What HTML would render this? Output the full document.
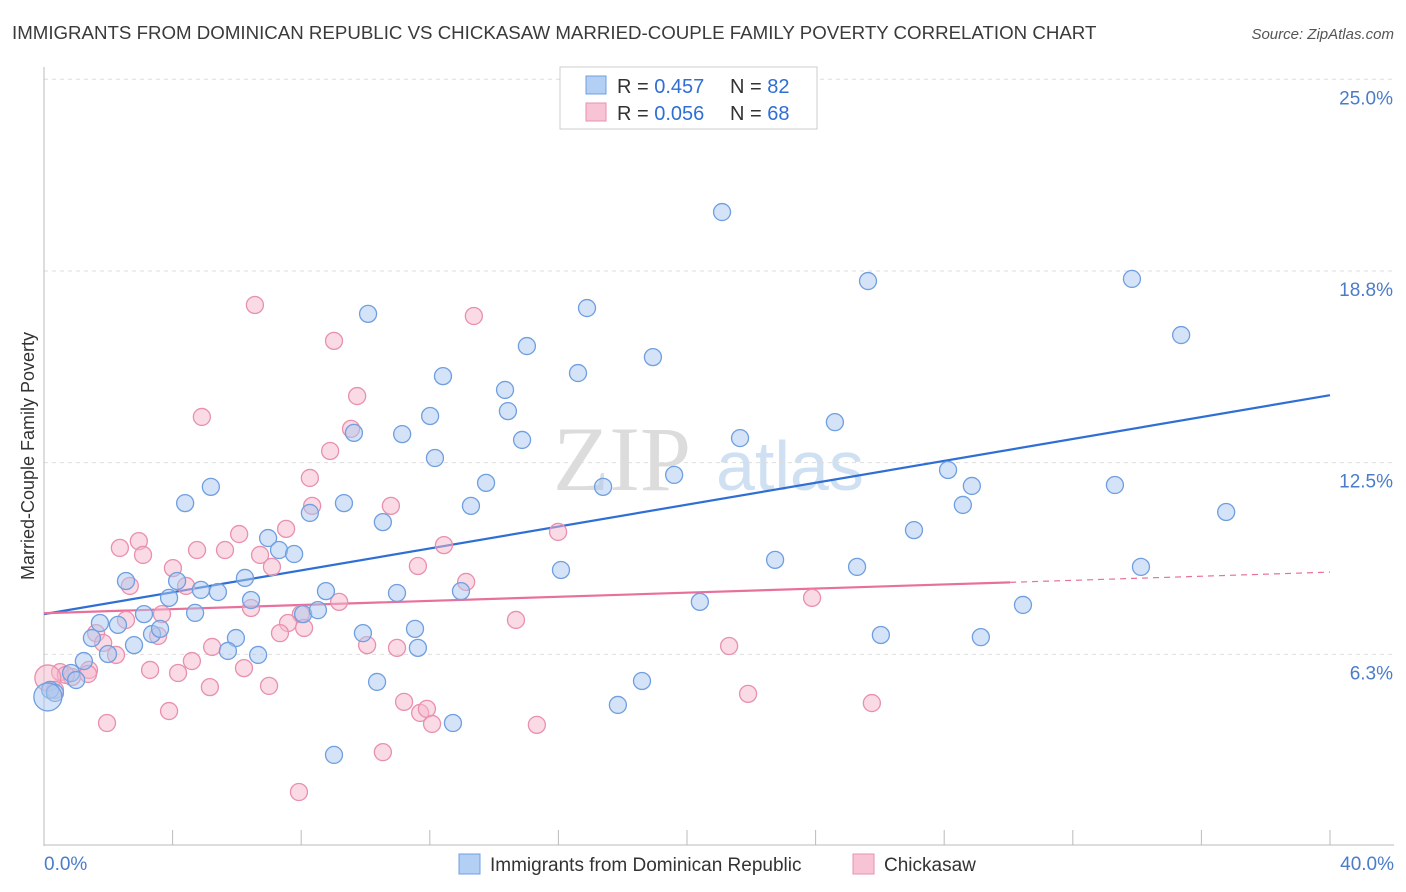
<!DOCTYPE html>
<html><head><meta charset="utf-8"><style>
body{margin:0;background:#fff;font-family:"Liberation Sans",sans-serif}
svg{display:block}
</style></head><body>
<svg id="chart" width="1406" height="892" viewBox="0 0 1406 892">
<text x="12" y="39" font-size="18.7" fill="#3a3a3a">IMMIGRANTS FROM DOMINICAN REPUBLIC VS CHICKASAW MARRIED-COUPLE FAMILY POVERTY CORRELATION CHART</text>
<text x="1394" y="39" font-size="15" fill="#555" font-style="italic" text-anchor="end">Source: ZipAtlas.com</text>
<text transform="translate(34,456) rotate(-90)" font-size="18" fill="#333" text-anchor="middle">Married-Couple Family Poverty</text>
<g><text x="553" y="490" font-size="92" fill="#dcdcdc" font-family="Liberation Serif,serif">ZIP</text><text x="716" y="490" font-size="70" fill="#cfe0f3">atlas</text></g>
<g id="grid"></g><g id="axes"></g><g id="lines"></g><g id="pts"></g>
<g>
<rect x="560" y="67" width="257" height="62" fill="#fff" stroke="#ccc"/>
<rect x="586" y="76" width="20" height="18" fill="#b3cff3" stroke="#6f9fe0"/>
<rect x="586" y="103" width="20" height="18" fill="#f8c4d5" stroke="#e890ae"/>
<text x="617" y="93" font-size="20" fill="#333">R = <tspan fill="#2f6fd4">0.457</tspan></text>
<text x="730" y="93" font-size="20" fill="#333">N = <tspan fill="#2f6fd4">82</tspan></text>
<text x="617" y="120" font-size="20" fill="#333">R = <tspan fill="#2f6fd4">0.056</tspan></text>
<text x="730" y="120" font-size="20" fill="#333">N = <tspan fill="#2f6fd4">68</tspan></text>
</g>
<g>
<rect x="459" y="854" width="21" height="20" fill="#b3cff3" stroke="#6f9fe0"/>
<text x="490" y="871" font-size="19" fill="#333">Immigrants from Dominican Republic</text>
<rect x="853" y="854" width="21" height="20" fill="#f8c4d5" stroke="#e890ae"/>
<text x="884" y="871" font-size="19" fill="#333">Chickasaw</text>
</g>
</svg>
<script>
const blueX=[21.09,25.63,33.84,35.37,10.08,16.89,15.02,18.94,12.41,16.61,14.34,14.43,12.01,9.64,11.14,14.87,21.65,24.60,12.16,19.60,13.75,17.39,28.12,28.86,33.31,28.58,36.77,4.39,5.19,9.33,13.28,10.54,8.27,27.06,6.97,7.31,7.78,16.08,22.74,25.29,34.12,2.55,4.14,4.88,5.41,6.25,3.89,6.44,8.77,10.98,12.97,20.40,30.45,3.11,4.70,8.06,8.52,1.74,2.30,3.36,3.61,5.97,9.92,11.54,26.03,29.14,1.49,1.99,2.80,5.72,6.66,11.63,1.24,0.84,1.00,10.36,18.60,17.85,12.72,9.02,0.19,0.34,0.12];
const blueY=[20.67,18.42,18.49,16.66,17.35,17.54,16.30,15.94,15.32,15.42,14.87,14.18,14.02,13.47,13.43,13.24,13.30,13.82,12.65,12.10,11.84,11.71,12.26,11.74,11.77,11.12,10.89,11.18,11.71,11.18,11.09,10.56,10.86,10.30,10.04,9.65,9.52,9.00,9.33,9.10,9.10,8.64,8.64,8.35,8.28,8.74,8.09,8.02,8.31,8.25,8.31,7.96,7.86,7.56,7.60,7.56,7.69,7.27,7.21,6.91,7.08,6.78,6.94,7.08,6.88,6.81,6.78,6.26,6.55,6.36,6.23,6.46,6.03,5.64,5.41,5.35,5.38,4.60,4.01,2.97,5.09,4.99,4.86];
const pinkX=[6.56,13.37,9.02,9.74,4.91,9.55,8.90,8.27,8.34,10.79,6.07,7.53,15.99,2.36,2.95,3.08,4.76,5.63,6.72,12.44,4.01,7.09,11.63,2.67,4.42,13.13,3.67,6.44,9.18,7.99,7.59,8.09,2.55,1.62,3.55,1.84,5.23,2.24,7.34,10.05,10.98,14.68,23.89,21.31,4.60,1.40,3.30,6.22,4.17,0.50,0.87,1.37,0.68,0.12,5.16,7.00,21.90,25.75,0.34,11.20,11.70,11.91,12.07,3.89,1.96,15.33,10.54,7.93];
const pinkY=[17.64,17.28,16.47,14.67,13.99,13.60,12.88,12.00,11.09,11.09,10.17,10.34,10.24,9.72,9.94,9.49,9.65,9.65,9.49,9.81,9.06,9.10,9.13,8.48,8.48,8.61,7.56,7.76,7.96,7.56,7.27,7.11,7.37,6.94,6.85,6.62,6.49,6.23,6.94,6.55,6.46,7.37,8.09,6.52,6.03,5.74,5.74,5.80,5.64,5.67,5.51,5.61,5.58,5.48,5.18,5.22,4.96,4.66,5.09,4.70,4.34,4.47,3.98,4.40,4.01,3.95,3.06,1.76];
const yTicks=[25.0,18.75,12.5,6.25];
const yTickLabels=["25.0%","18.8%","12.5%","6.3%"];
const blueLine=[7.56,14.70];
const pinkLine=[7.59,8.93];
const pinkSolidEnd=30.05;
const NS="http://www.w3.org/2000/svg";
const sx=v=>44+v*32.15, sy=v=>846-v*30.67;
function mk(tag,attrs,parent){const e=document.createElementNS(NS,tag);for(const k in attrs)e.setAttribute(k,attrs[k]);document.getElementById(parent).appendChild(e);return e;}
yTicks.forEach((t,i)=>{const y=sy(t);
const g=mk('line',{x1:44,x2:1394,y1:y,y2:y,stroke:'#ddd','stroke-dasharray':'4,4'},'grid');


const tx=mk('text',{x:1393,y:y+25,'font-size':19,fill:'#4a7cc9','text-anchor':'end'},'grid');tx.textContent=yTickLabels[i];

});
const ax=mk('line',{x1:44,x2:44,y1:67,y2:846,stroke:'#bbb'},'axes');


const bx=mk('line',{x1:44,x2:1394,y1:845,y2:845,stroke:'#bbb'},'axes');


for(let v=4;v<=40;v+=4){const t=mk('line',{x1:sx(v),x2:sx(v),y1:830,y2:845,stroke:'#bbb'},'axes');

}
[[0,'0.0%','start',44],[40,'40.0%','end',1394]].forEach(a=>{const t=mk('text',{x:a[3],y:870,'font-size':19,fill:'#4a7cc9','text-anchor':a[2]},'axes');t.textContent=a[1];

});
function dot(x,y,r,fill,stroke){const c=mk('circle',{cx:sx(x),cy:sy(y),r:r,fill:fill,'fill-opacity':0.5,stroke:stroke,'stroke-width':1.3},'pts');return c;}
for(let i=0;i<pinkX.length;i++){const c=dot(pinkX[i],pinkY[i],i==53?13:8.5,'#f5b8cc','#e890ae');

}
for(let i=0;i<blueX.length;i++){const c=dot(blueX[i],blueY[i],i==82?14:8.5,'#a9c8f0','#6f9fe0');

}
const bl=mk('line',{x1:sx(0),y1:sy(blueLine[0]),x2:sx(40),y2:sy(blueLine[1]),stroke:'#2f6fd4','stroke-width':2.2},'lines');


const pm=v=>pinkLine[0]+(pinkLine[1]-pinkLine[0])*v/40;
const pl=mk('line',{x1:sx(0),y1:sy(pinkLine[0]),x2:sx(pinkSolidEnd),y2:sy(pm(pinkSolidEnd)),stroke:'#e8719c','stroke-width':2.2},'lines');


const pd=mk('line',{x1:sx(pinkSolidEnd),y1:sy(pm(pinkSolidEnd)),x2:sx(40),y2:sy(pinkLine[1]),stroke:'#e8719c','stroke-width':1.2,'stroke-dasharray':'6,5'},'lines');


</script>
</body></html>
